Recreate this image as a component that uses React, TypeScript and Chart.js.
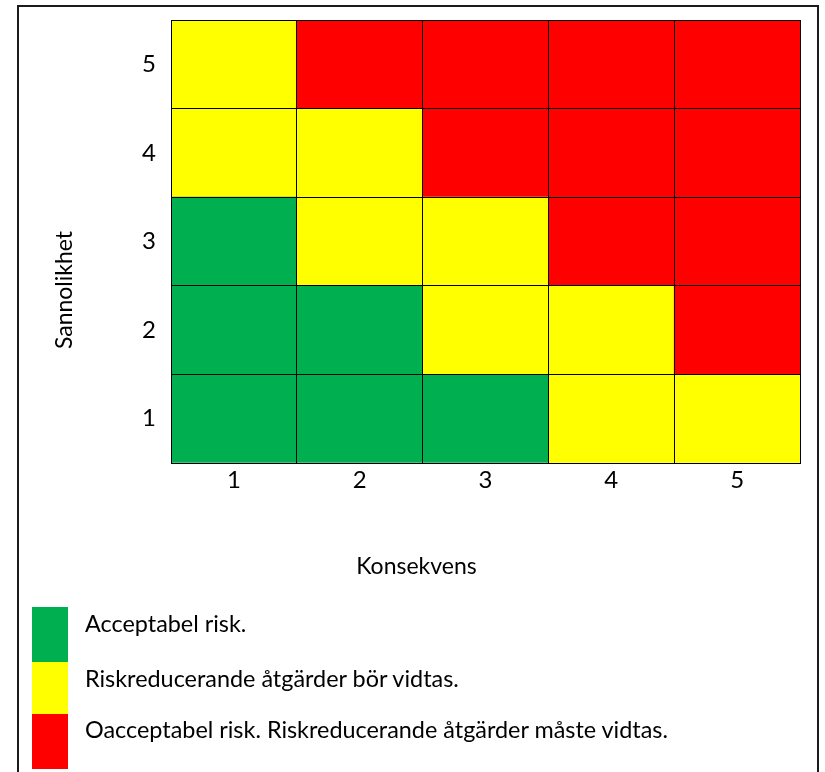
import React, { useEffect, useRef } from 'react';
import { Chart, registerables } from 'chart.js';

Chart.register(...registerables);

const consequenceLabels = ['1', '2', '3', '4', '5'];
const likelihoodLabels = ['1', '2', '3', '4', '5'];
// risk level per cell (0 = acceptable, 1 = reduce, 2 = unacceptable), likelihood rows 1..5, consequence columns 1..5
const riskRow1 = [0, 0, 0, 1, 1];
const riskRow2 = [0, 0, 1, 1, 2];
const riskRow3 = [0, 1, 1, 2, 2];
const riskRow4 = [1, 1, 2, 2, 2];
const riskRow5 = [1, 2, 2, 2, 2];
const riskRows = [riskRow1, riskRow2, riskRow3, riskRow4, riskRow5];
const riskColors = ['#00B050', '#FFFF00', '#FF0000'];
const legendLabels = [
  'Acceptabel risk.',
  'Riskreducerande åtgärder bör vidtas.',
  'Oacceptabel risk. Riskreducerande åtgärder måste vidtas.',
];
const xTitle = 'Konsekvens';
const yTitle = 'Sannolikhet';

const FONT = 'Lato';

export default function App() {
  const ref = useRef<HTMLCanvasElement>(null);
  useEffect(() => {
    if (!ref.current) return;
    const datasets = riskRows.map((row, i) => ({
      label: likelihoodLabels[i],
      data: row.map(() => 1),
      backgroundColor: row.map((lvl) => riskColors[lvl]),
      borderWidth: 0,
      barPercentage: 1,
      categoryPercentage: 1,
      yAxisID: 'y',
    }));
    const chart = new Chart(ref.current, {
      type: 'bar',
      data: { labels: consequenceLabels, datasets },
      options: {
        animation: false,
        responsive: false,
        layout: { padding: { left: 8, top: 20, right: 0, bottom: 212 } },
        plugins: {
          legend: { display: false },
          tooltip: { enabled: false },
          title: {
            display: true,
            position: 'bottom',
            text: xTitle,
            color: '#000',
            font: { family: FONT, size: 23, weight: 'normal' },
            padding: { top: 50.2, bottom: -20.8 },
          },
          subtitle: {
            display: true,
            position: 'left',
            text: yTitle,
            color: '#000',
            font: { family: FONT, size: 23, weight: 'normal' },
            padding: { top: 43.2, bottom: 0 },
          },
        },
        scales: {
          x: {
            stacked: true,
            offset: true,
            grid: { color: '#000', lineWidth: 1, offset: true, drawTicks: false, z: 1 },
            border: { color: '#000', width: 1, z: 1 },
            ticks: { color: '#000', font: { family: FONT, size: 24 }, padding: 3, maxRotation: 0 },
            afterFit: (s: any) => {
              s.height = 40;
              s.paddingLeft = 0;
              s.paddingRight = 0;
            },
          },
          y: {
            stacked: true,
            min: 0,
            max: 5,
            grid: { color: '#000', lineWidth: 1, drawTicks: false, z: 1 },
            border: { color: '#000', width: 1, z: 1 },
            ticks: {
              stepSize: 1,
              color: '#000',
              font: { family: FONT, size: 24 },
              padding: 15,
              labelOffset: -44.3,
              callback: (v: any) => (v < 5 ? likelihoodLabels[v] : ''),
            },
            afterFit: (s: any) => {
              s.width = 92.2;
              s.paddingTop = 0;
              s.paddingBottom = 0;
            },
          },
          yRight: {
            type: 'linear',
            position: 'right',
            min: 0,
            max: 5,
            grid: { display: false },
            border: { display: false },
            ticks: { display: false },
            afterFit: (s: any) => {
              s.width = 25;
              s.paddingTop = 0;
              s.paddingBottom = 0;
            },
          },
        },
      },
    });
    return () => chart.destroy();
  }, []);

  const legendTops = [607, 662, 714];
  const legendHeights = [55, 52, 55];
  const textTops = [612, 667, 718];

  return (
    <div style={{ position: 'fixed', left: 0, top: 0, width: 825, height: 772, background: '#fff', overflow: 'hidden' }}>
      <div
        style={{
          position: 'absolute',
          left: 17,
          top: 5,
          width: 798,
          height: 800,
          border: '2px solid #1a1a1a',
          borderBottom: 'none',
        }}
      />
      <canvas ref={ref} width={825} height={772} style={{ position: 'absolute', left: 0, top: 0 }} />
      {legendLabels.map((t, i) => (
        <React.Fragment key={i}>
          <div
            style={{
              position: 'absolute',
              left: 32,
              top: legendTops[i],
              width: 36,
              height: legendHeights[i],
              background: riskColors[i],
            }}
          />
          <div
            style={{
              position: 'absolute',
              left: 85,
              top: textTops[i],
              fontFamily: FONT,
              fontSize: 23.4,
              lineHeight: '22px',
              color: '#000',
              whiteSpace: 'nowrap',
            }}
          >
            {t}
          </div>
        </React.Fragment>
      ))}
    </div>
  );
}
